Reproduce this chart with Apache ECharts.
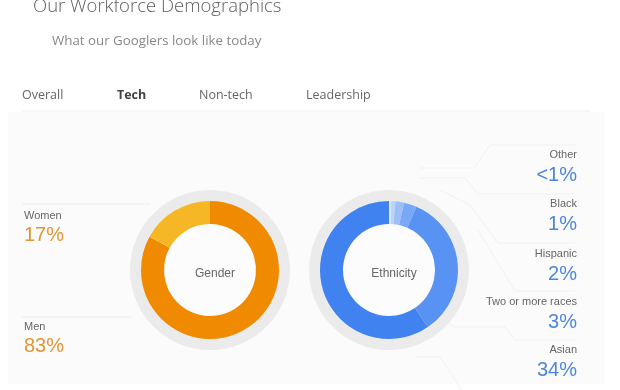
<!DOCTYPE html>
<html><head><meta charset="utf-8">
<script src="https://cdn.jsdelivr.net/npm/echarts@6/dist/echarts.min.js"></script>
<style>html,body{margin:0;padding:0;background:#fff}#c{width:620px;height:390px}</style>
</head><body><div id="c"></div>
<script>
var tabs = ['Overall','Tech','Non-tech','Leadership'];
var genderNames = ['Men','Women'];
var genderValues = [83,17];
var genderLabels = ['83%','17%'];
var ethNames = ['Other','Black','Hispanic','Two or more races','Asian','White'];
var ethValues = [0.5,1,2,3,34,59.5];
var ethLabels = ['<1%','1%','2%','3%','34%','60%'];
var genderColors = ['#f08a00','#f6b726'];
var ethColors = ['#dbe7fc','#bcd3fa','#9dbff8','#78a8f6','#5893f4','#3f82f0'];

var chart = echarts.init(document.getElementById('c'), null, {renderer:'canvas'});
var FONT_L = 'Liberation Sans';
var g = [];
g.push({type:'rect', shape:{x:8,y:112,width:596,height:272}, style:{fill:'#fbfbfb'}, z:-10});
g.push({type:'text', left:33, top:-3, style:{text:'Our Workforce Demographics', font:'300 18.5px "Open Sans"', fill:'#606060'}});
g.push({type:'text', left:52, top:35, style:{text:'What our Googlers look like today', font:'13.3px "Open Sans"', fill:'#888'}});
var tabX = [22,117,199,306];
tabs.forEach(function(t,i){
  g.push({type:'text', left:tabX[i], top:89, style:{text:t, font:(i===1?'bold ':'')+'12.5px "Open Sans"', fill:i===1?'#444':'#666'}});
});
g.push({type:'line', shape:{x1:22,y1:111,x2:590,y2:111}, style:{stroke:'#eeeeee',lineWidth:1}});
[ {i:1,y:204,x2:150,d:0}, {i:0,y:317,x2:132,d:-2} ].forEach(function(o){
  g.push({type:'line', shape:{x1:22,y1:o.y,x2:o.x2,y2:o.y}, style:{stroke:'#ececec',lineWidth:1}});
  g.push({type:'text', left:24, top:o.y+6+o.d, style:{text:genderNames[o.i], font:'11px "Liberation Sans"', fill:'#666'}});
  g.push({type:'text', left:24, top:o.y+21+o.d, style:{text:genderLabels[o.i], font:'20px "Liberation Sans"', fill:'#e39433'}});
});
var eY = [149,198,248,296,344];
for (var k=0;k<5;k++){
  g.push({type:'text', right:620-577, top:eY[k], style:{text:ethNames[k], font:'11px "Liberation Sans"', fill:'#666', align:'right'}});
  g.push({type:'text', right:620-577, top:eY[k]+16, style:{text:ethLabels[k], font:'20px "Liberation Sans"', fill:'#4d86dc', align:'right'}});
}
var lines = [
  [[575,145],[490,145],[474,168],[420,168]],
  [[575,194],[478,194],[465,178],[420,178]],
  [[575,243],[498,243],[470,205],[440,190]],
  [[575,291],[515,291],[478,230]],
  [[575,340],[515,340],[505,327],[455,327],[440,318]],
  [[440,357],[415,357]],
  [[440,357],[462,390]]
];
lines.forEach(function(p){
  g.push({type:'polyline', shape:{points:p}, style:{stroke:'#f1f1f1',lineWidth:1,fill:null}, z:-5});
});

var bgRing = function(cx){
  return {type:'pie', silent:true, center:[cx,270], radius:[68,80], label:{show:false}, data:[{value:1,itemStyle:{color:'#ebebeb'}}], z:1};
};
chart.setOption({
  animation:false,
  graphic:g,
  title:[
    {text:'Gender', left:210, top:263, textAlign:'center', textStyle:{fontSize:12, fontWeight:'normal', color:'#666', fontFamily:FONT_L}},
    {text:'Ethnicity', left:389, top:263, textAlign:'center', textStyle:{fontSize:12, fontWeight:'normal', color:'#666', fontFamily:FONT_L}}
  ],
  series:[
    bgRing(210), bgRing(389),
    {type:'pie', center:[210,270], radius:[46,69], startAngle:90, clockwise:true, label:{show:false}, z:2,
     itemStyle:{borderWidth:0},
     data:genderNames.map(function(n,i){return {name:n,value:genderValues[i],itemStyle:{color:genderColors[i]}};})},
    {type:'pie', center:[389,270], radius:[46,69], startAngle:90, clockwise:true, label:{show:false}, z:2,
     itemStyle:{borderWidth:0},
     data:ethNames.map(function(n,i){return {name:n,value:ethValues[i],itemStyle:{color:ethColors[i]}};})},
    {type:'pie', silent:true, center:[210,270], radius:[0,46], label:{show:false}, data:[{value:1,itemStyle:{color:'#fcfcfc'}}], z:1},
    {type:'pie', silent:true, center:[389,270], radius:[0,46], label:{show:false}, data:[{value:1,itemStyle:{color:'#fcfcfc'}}], z:1}
  ]
});
</script></body></html>
